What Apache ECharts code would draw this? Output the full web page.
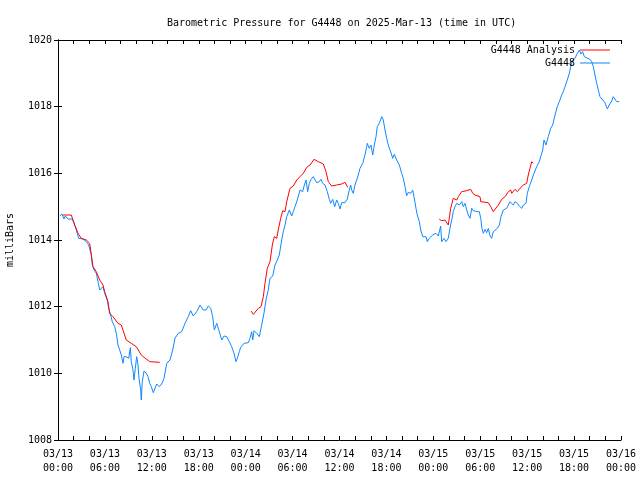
<!DOCTYPE html>
<html>
<head>
<meta charset="utf-8">
<script src="https://cdn.jsdelivr.net/npm/echarts@6/dist/echarts.min.js"></script>
<style>html,body{margin:0;padding:0;background:#fff}#c{width:640px;height:480px}</style>
</head>
<body>
<div id="c"></div>
<script>
// Hours since 2025-03-13 00:00 UTC
var tickLabels = ['03/13\n00:00','03/13\n06:00','03/13\n12:00','03/13\n18:00','03/14\n00:00','03/14\n06:00','03/14\n12:00','03/14\n18:00','03/15\n00:00','03/15\n06:00','03/15\n12:00','03/15\n18:00','03/16\n00:00'];

var obsHours = [0.22,0.51,0.77,0.93,1.28,1.79,2.05,2.34,2.65,3.20,3.62,3.93,4.26,4.39,4.60,4.90,5.12,5.33,5.54,5.75,5.97,6.30,6.48,6.74,6.94,7.25,7.46,7.67,7.89,8.10,8.31,8.44,8.73,9.04,9.25,9.37,9.59,9.72,9.89,10.06,10.23,10.36,10.58,10.65,10.78,11.00,11.29,11.51,11.73,11.93,12.19,12.62,12.96,13.26,13.56,13.90,14.32,14.67,14.96,15.38,15.82,16.24,16.66,16.97,17.30,17.74,18.16,18.38,18.58,18.93,19.22,19.53,19.78,19.99,20.30,20.63,20.94,21.23,21.57,21.91,22.21,22.51,22.76,22.93,23.19,23.36,23.79,24.34,24.55,24.77,24.90,25.07,25.41,25.74,26.05,26.34,26.60,26.89,27.11,27.46,27.75,28.05,28.30,28.61,28.81,29.03,29.25,29.58,29.89,30.09,30.31,30.60,30.95,31.29,31.50,31.72,31.93,32.14,32.36,32.65,32.87,33.08,33.42,33.63,33.85,34.15,34.44,34.70,34.87,35.13,35.39,35.64,35.85,36.06,36.28,36.70,37.00,37.25,37.43,37.56,37.76,37.98,38.20,38.40,38.62,38.97,39.26,39.48,39.55,39.81,40.03,40.25,40.45,40.67,40.83,41.09,41.40,41.60,41.82,42.04,42.24,42.46,42.68,42.80,43.01,43.31,43.65,43.95,44.16,44.38,44.59,44.80,45.11,45.36,45.53,45.78,45.95,46.21,46.39,46.64,46.84,47.06,47.23,47.48,47.92,48.34,48.63,48.94,49.07,49.36,49.62,49.91,50.13,50.35,50.55,50.77,50.99,51.32,51.63,51.83,52.05,52.27,52.47,52.69,52.91,53.11,53.33,53.62,53.88,54.06,54.22,54.39,54.61,54.82,55.03,55.25,55.46,55.67,55.89,56.18,56.44,56.65,56.95,57.38,57.59,57.80,58.02,58.23,58.44,58.74,58.99,59.30,59.51,59.85,60.02,60.27,60.58,60.87,61.22,61.55,61.73,61.99,62.15,62.41,62.70,63.01,63.26,63.56,63.85,64.11,64.42,64.62,64.84,65.13,65.39,65.57,65.82,66.12,66.41,66.67,66.88,67.10,67.31,67.52,68.03,68.25,68.46,68.67,68.89,69.10,69.31,69.66,69.95,70.25,70.50,70.81,71.01,71.23,71.45,71.78];
var obsValues = [1014.72,1014.78,1014.63,1014.72,1014.63,1014.63,1014.51,1014.30,1014.05,1014.03,1013.95,1013.85,1013.55,1013.25,1013.10,1013.00,1012.75,1012.50,1012.50,1012.60,1012.40,1012.20,1011.95,1011.75,1011.55,1011.40,1011.20,1010.85,1010.70,1010.55,1010.30,1010.50,1010.50,1010.45,1010.77,1010.35,1010.10,1009.80,1010.15,1010.50,1010.25,1009.85,1009.50,1009.20,1009.75,1010.07,1010.00,1009.90,1009.70,1009.60,1009.42,1009.68,1009.60,1009.68,1009.85,1010.30,1010.40,1010.70,1011.05,1011.20,1011.25,1011.50,1011.70,1011.88,1011.72,1011.85,1012.05,1012.10,1011.90,1011.90,1012.02,1011.95,1011.70,1011.30,1011.50,1011.25,1011.00,1011.12,1011.10,1010.95,1010.80,1010.60,1010.35,1010.45,1010.65,1010.78,1010.90,1010.92,1011.05,1011.25,1011.00,1011.28,1011.20,1011.10,1011.45,1011.80,1012.20,1012.50,1012.85,1012.92,1013.25,1013.40,1013.55,1014.00,1014.25,1014.45,1014.70,1014.90,1014.72,1014.85,1015.00,1015.20,1015.50,1015.45,1015.65,1015.80,1015.45,1015.70,1015.82,1015.90,1015.90,1015.72,1015.75,1015.82,1015.70,1015.65,1015.45,1015.22,1015.10,1015.22,1015.00,1015.20,1015.10,1014.93,1015.12,1015.12,1015.23,1015.50,1015.65,1015.50,1015.40,1015.65,1015.80,1015.95,1016.15,1016.30,1016.55,1016.80,1016.90,1016.75,1016.85,1016.55,1016.85,1017.10,1017.40,1017.50,1017.70,1017.60,1017.30,1017.05,1016.85,1016.70,1016.55,1016.45,1016.57,1016.40,1016.25,1016.00,1015.85,1015.60,1015.33,1015.43,1015.40,1015.50,1015.30,1014.95,1014.75,1014.55,1014.30,1014.10,1014.05,1014.10,1013.95,1014.05,1014.15,1014.20,1014.12,1014.42,1013.95,1014.05,1013.95,1014.05,1014.35,1014.60,1014.85,1015.00,1015.10,1015.05,1015.15,1015.00,1015.10,1014.90,1014.75,1014.65,1014.95,1014.88,1014.90,1014.85,1014.85,1014.65,1014.35,1014.20,1014.32,1014.22,1014.35,1014.12,1014.05,1014.25,1014.30,1014.35,1014.45,1014.70,1014.90,1014.95,1015.05,1015.15,1015.20,1015.05,1015.15,1015.10,1015.02,1014.95,1015.05,1015.10,1015.40,1015.60,1015.80,1016.00,1016.20,1016.35,1016.50,1016.70,1017.00,1016.85,1017.10,1017.35,1017.45,1017.75,1018.00,1018.15,1018.35,1018.45,1018.60,1018.80,1019.00,1019.20,1019.40,1019.45,1019.60,1019.70,1019.58,1019.65,1019.50,1019.45,1019.42,1019.35,1019.20,1018.95,1018.70,1018.50,1018.30,1018.20,1018.12,1017.93,1018.05,1018.17,1018.30,1018.25,1018.15,1018.15];

// Analysis series (null = gap)
var anaHours = [0.64,1.70,2.14,2.56,2.98,3.62,4.05,4.48,4.90,5.33,5.75,5.97,6.39,6.61,7.03,7.67,8.10,8.73,9.37,10.01,10.65,11.16,11.73,13.01,
  18.0,
  24.68,24.98,25.62,25.96,26.26,26.47,26.77,27.11,27.41,27.66,27.97,28.17,28.48,28.74,29.03,29.25,29.67,30.09,30.53,30.95,31.37,31.81,32.23,32.74,33.29,33.93,34.27,34.57,35.00,35.64,36.28,36.70,36.92,37.05,
  42.0,
  48.76,49.07,49.49,49.91,50.22,50.55,50.77,50.99,51.19,51.63,52.27,52.78,53.04,53.33,53.97,54.06,55.03,55.34,55.67,55.89,56.31,56.74,57.17,57.59,57.89,58.02,58.44,58.74,59.08,59.51,59.94,60.14,60.36,60.58,60.78];
var anaValues = [1014.75,1014.75,1014.45,1014.20,1014.05,1014.00,1013.90,1013.20,1013.05,1012.80,1012.65,1012.45,1012.15,1011.80,1011.70,1011.50,1011.45,1011.00,1010.90,1010.80,1010.55,1010.45,1010.35,1010.33,
  null,
  1011.87,1011.77,1011.95,1012.00,1012.30,1012.70,1013.15,1013.35,1013.85,1014.10,1014.05,1014.30,1014.65,1014.88,1014.85,1015.15,1015.55,1015.62,1015.80,1015.90,1016.00,1016.18,1016.25,1016.42,1016.35,1016.28,1016.05,1015.75,1015.62,1015.65,1015.68,1015.73,1015.72,1015.58,
  null,
  1014.62,1014.58,1014.60,1014.45,1014.95,1015.25,1015.30,1015.20,1015.30,1015.45,1015.48,1015.52,1015.40,1015.35,1015.30,1015.15,1015.12,1015.00,1014.85,1014.85,1015.05,1015.22,1015.30,1015.45,1015.50,1015.40,1015.52,1015.45,1015.55,1015.65,1015.70,1015.95,1016.15,1016.35,1016.30];

function zip(a, b) { return a.map(function (x, i) { return [x, b[i]]; }); }

var FONT = 'DejaVu Sans Mono';
var RED = '#ff0000', BLUE = '#0f88ff';
var chart = echarts.init(document.getElementById('c'), null, {renderer: 'canvas'});
var axisCommon = {
  axisLine: {show: true, lineStyle: {color: '#000', width: 1}},
  axisTick: {show: true, inside: true, length: 4, lineStyle: {color: '#000'}},
  splitLine: {show: false}
};
chart.setOption({
  animation: false,
  backgroundColor: '#fff',
  title: {
    text: 'Barometric Pressure for G4448 on 2025-Mar-13 (time in UTC)',
    left: 162, top: 13,
    textStyle: {fontFamily: FONT, fontSize: 10, fontWeight: 'normal', color: '#000'}
  },
  legend: {
    orient: 'vertical', right: 30, top: 44, align: 'right', padding: 0,
    itemWidth: 30, itemHeight: 1, itemGap: 1,
    icon: 'rect',
    textStyle: {fontFamily: FONT, fontSize: 10, color: '#000', lineHeight: 12, padding: [0, 0, 0, 0]},
    data: [
      {name: 'G4448 Analysis', icon: 'rect', itemStyle: {color: RED}},
      {name: 'G4448', icon: 'rect', itemStyle: {color: BLUE}}
    ]
  },
  grid: {left: 58, right: 19, top: 40, bottom: 40, containLabel: false, outerBoundsMode: 'none'},
  xAxis: [
    Object.assign({}, axisCommon, {
      type: 'value', position: 'bottom', min: 0, max: 72, interval: 2,
      axisLabel: {
        fontFamily: FONT, fontSize: 10, color: '#000', lineHeight: 14, margin: 7,
        formatter: function (v) { return (v % 6 === 0) ? tickLabels[v / 6] : ''; }
      }
    }),
    Object.assign({}, axisCommon, {
      type: 'value', position: 'top', min: 0, max: 72, interval: 2,
      axisLabel: {show: false}
    })
  ],
  yAxis: [
    Object.assign({}, axisCommon, {
      type: 'value', position: 'left', min: 1008, max: 1020, interval: 2,
      name: 'milliBars', nameLocation: 'middle', nameGap: 43, nameRotate: 90,
      nameTextStyle: {fontFamily: FONT, fontSize: 10, color: '#000'},
      axisLabel: {fontFamily: FONT, fontSize: 10, color: '#000', margin: 6,
        formatter: function (v) { return String(v); }}
    }),
    Object.assign({}, axisCommon, {
      type: 'value', position: 'right', min: 1008, max: 1020, interval: 2,
      axisLabel: {show: false}
    })
  ],
  series: [
    {
      name: 'G4448 Analysis', type: 'line', data: zip(anaHours, anaValues),
      symbol: 'none', showSymbol: false, connectNulls: false,
      lineStyle: {color: RED, width: 1}, itemStyle: {color: RED}, z: 3
    },
    {
      name: 'G4448', type: 'line', data: zip(obsHours, obsValues),
      symbol: 'none', showSymbol: false,
      lineStyle: {color: BLUE, width: 1}, itemStyle: {color: BLUE}, z: 2
    }
  ]
});
</script>
</body>
</html>
